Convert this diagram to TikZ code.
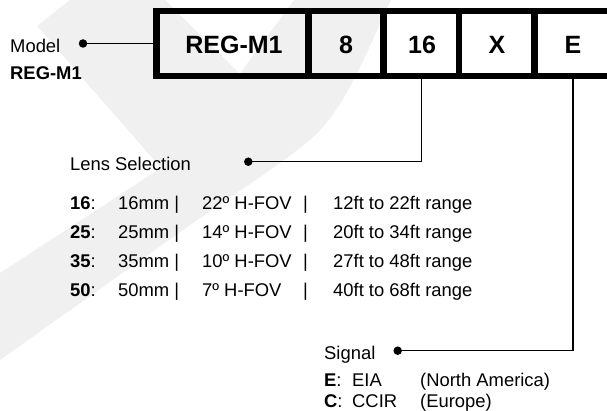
\documentclass[tikz,border=0pt]{standalone}
\usepackage{fontspec}
\setmainfont{Liberation Sans}
\definecolor{wm}{RGB}{240,240,240}
\tikzset{
  txt/.style={anchor=base west, inner sep=0pt, font=\fontsize{18.4}{22}\selectfont},
  boxtxt/.style={font=\fontsize{25}{30}\selectfont\bfseries},
  cell/.style={draw, line width=6.5pt, minimum height=65pt, inner sep=0pt},
  dotnode/.style={circle, fill=black, inner sep=0pt, minimum size=8.5pt},
  conn/.style={line width=1.5pt},
}
\begin{document}
\begin{tikzpicture}[x=1pt,y=-1pt]
\useasboundingbox (0,0) rectangle (607,411);
\clip (0,0) rectangle (607,411);
% watermark
\fill[wm] (70,0) -- (165,0) -- (240,74) .. controls (262,42) and (280,20) .. (294,0)
  -- (391,0) .. controls (365,55) and (345,110) .. (310,140)
  .. controls (280,165) and (240,190) .. (200,218) -- (0,360) -- (0,273)
  -- (161,168) -- (37,26) -- cycle;
% code box
\node[cell, minimum width=152pt] (cReg) at (232.5,43.5) {};
\node[cell, minimum width=75pt] (c8) at (346,43.5) {};
\node[cell, minimum width=75.5pt] (c16) at (421.25,43.5) {};
\node[cell, minimum width=75.5pt] (cX) at (496.75,43.5) {};
\node[cell, minimum width=76.5pt] (cE) at (572.75,43.5) {};
\node[boxtxt, anchor=base] (tReg) at (234,54) {REG-M1};
\node[boxtxt, anchor=base] (t8) at (346,54) {8};
\node[boxtxt, anchor=base] (t16) at (422,54) {16};
\node[boxtxt, anchor=base] (tX) at (497,54) {X};
\node[boxtxt, anchor=base] (tE) at (573,54) {E};
% model
\node[txt] (model) at (10,52.7) {Model};
\node[txt, font=\fontsize{18.4}{22}\selectfont\bfseries] (modelname) at (10,79.3) {REG-M1};
\node[dotnode] (dModel) at (83,43.5) {};
\draw[conn] (dModel.center) -- (cReg.west);
% lens
\node[txt] (lens) at (70,170.7) {Lens Selection};
\node[dotnode] (dLens) at (248.3,161.7) {};
\draw[conn] (dLens.center) -| (c16.south);
\foreach \n/\mm/\fov/\rng/\y in {16/16mm/22º H-FOV/12ft to 22ft range/210,
                                 25/25mm/14º H-FOV/20ft to 34ft range/238.9,
                                 35/35mm/10º H-FOV/27ft to 48ft range/267.8,
                                 50/50mm/7º H-FOV/40ft to 68ft range/296.7}{
  \node[txt] (r\n a) at (70,\y) {\textbf{\n}:};
  \node[txt] (r\n b) at (118,\y) {\mm\ |};
  \node[txt] (r\n c) at (202,\y) {\fov};
  \node[txt] (r\n d) at (303,\y) {|};
  \node[txt] (r\n e) at (333,\y) {\rng};
}
% signal
\node[txt] (signal) at (324,359) {Signal};
\node[dotnode] (dSig) at (397.7,350.7) {};
\draw[conn] (dSig.center) -| (cE.south);
\node[txt] (sE) at (324,386) {\textbf{E}:};
\node[txt] (sEa) at (352,386) {EIA};
\node[txt] (sEb) at (420,386) {(North America)};
\node[txt] (sC) at (324,407.7) {\textbf{C}:};
\node[txt] (sCa) at (352,407.7) {CCIR};
\node[txt] (sCb) at (420,407.7) {(Europe)};
\end{tikzpicture}
\end{document}
